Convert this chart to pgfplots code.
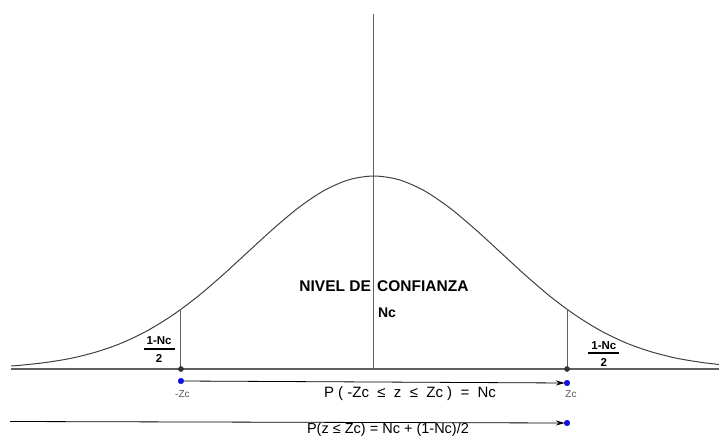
\documentclass[border=0pt]{standalone}
\usepackage{pgfplots}
\pgfplotsset{compat=1.18}
\usepackage{fontspec}
\setmainfont{Liberation Sans}
\usetikzlibrary{arrows.meta}
\definecolor{curvegray}{HTML}{404040}
\definecolor{axgray}{HTML}{606060}
\definecolor{ptblue}{HTML}{1010E0}
\definecolor{ptdark}{HTML}{333333}
\definecolor{lblgray}{HTML}{555555}
\begin{document}
\begin{tikzpicture}
\begin{axis}[
  at={(0,0)}, anchor=south west,
  scale only axis, width=719bp, height=437bp,
  xmin=-2.968, xmax=2.738, ymin=0, ymax=437,
  axis lines=none, clip=false,
]
% horizontal axis
\addplot[axgray, line width=1.2bp] coordinates {(-2.880,68) (2.738,68)};
% vertical centre line
\addplot[axgray, line width=1bp] coordinates {(0,68) (0,423)};
% normal curve
\addplot[curvegray, line width=1bp, smooth] table {
x y
-2.88 71.0
-2.8 71.8
-2.6 74.6
-2.4 78.8
-2.2 85.2
-2.0 94.1
-1.8 106.2
-1.6 121.7
-1.4 140.4
-1.2 162.0
-1.0 185.1
-0.8 208.1
-0.6 229.2
-0.4 246.2
-0.2 257.2
0.0 261.0
0.2 257.2
0.4 246.2
0.6 229.2
0.8 208.1
1.0 185.1
1.2 162.0
1.4 140.4
1.6 121.7
1.8 106.2
2.0 94.1
2.2 85.2
2.4 78.8
2.6 74.6
2.738 72.5
};
% Zc lines
\addplot[axgray, line width=1bp] coordinates {(-1.532,68) (-1.532,127.7)};
\addplot[axgray, line width=1bp] coordinates {(1.532,68) (1.532,127.7)};
% dark points
\addplot[only marks, mark=*, mark size=2.6bp, ptdark] coordinates {(-1.532,68) (1.532,68)};
% arrows
\addplot[black, line width=0.8bp, -{Stealth[length=9bp,width=5bp]}] coordinates {(-1.532,56) (1.515,54)};
\addplot[black, line width=0.8bp, -{Stealth[length=9bp,width=5bp]}] coordinates {(-2.888,15.5) (1.515,14)};
% blue points
\addplot[only marks, mark=*, mark size=2.8bp, ptblue] coordinates {(-1.532,56) (1.532,54) (1.532,14)};
% texts
\node[font=\fontsize{15.5bp}{17bp}\selectfont\bfseries] at (axis cs:0.079,151) {NIVEL DE\kern2bp\ CONFIANZA};
\node[font=\fontsize{14bp}{16bp}\selectfont\bfseries] at (axis cs:0.103,124) {Nc};
% left fraction (bar at y=87.7)
\node[font=\fontsize{11.5bp}{13bp}\selectfont\bfseries, inner sep=0pt] at (axis cs:-1.705,95.9) {1-Nc};
\node[inner sep=0pt] at (axis cs:-1.705,87.7) {\rule{31bp}{1.8bp}};
\node[font=\fontsize{11.5bp}{13bp}\selectfont\bfseries, inner sep=0pt] at (axis cs:-1.705,78.6) {2};
% right fraction (bar at y=83.7)
\node[font=\fontsize{11.5bp}{13bp}\selectfont\bfseries, inner sep=0pt] at (axis cs:1.824,91.8) {1-Nc};
\node[inner sep=0pt] at (axis cs:1.824,83.7) {\rule{31bp}{1.8bp}};
\node[font=\fontsize{11.5bp}{13bp}\selectfont\bfseries, inner sep=0pt] at (axis cs:1.824,74.6) {2};
\node[font=\fontsize{10bp}{12bp}\selectfont, text=lblgray] at (axis cs:-1.52,43) {-Zc};
\node[font=\fontsize{10bp}{12bp}\selectfont, text=lblgray] at (axis cs:1.563,43) {Zc};
\node[font=\fontsize{15bp}{17bp}\selectfont] at (axis cs:0.286,43) {P ( -Zc\ \ ≤\ \ z\ \ ≤\ \ Zc )\ \ =\ \ Nc};
\node[font=\fontsize{14.5bp}{16bp}\selectfont, anchor=base] at (axis cs:0.111,4) {P(z ≤ Zc) = Nc + (1-Nc)/2};
\end{axis}
\pgfresetboundingbox
\path[use as bounding box] (0,0) rectangle (719bp,437bp);
\end{tikzpicture}
\end{document}
